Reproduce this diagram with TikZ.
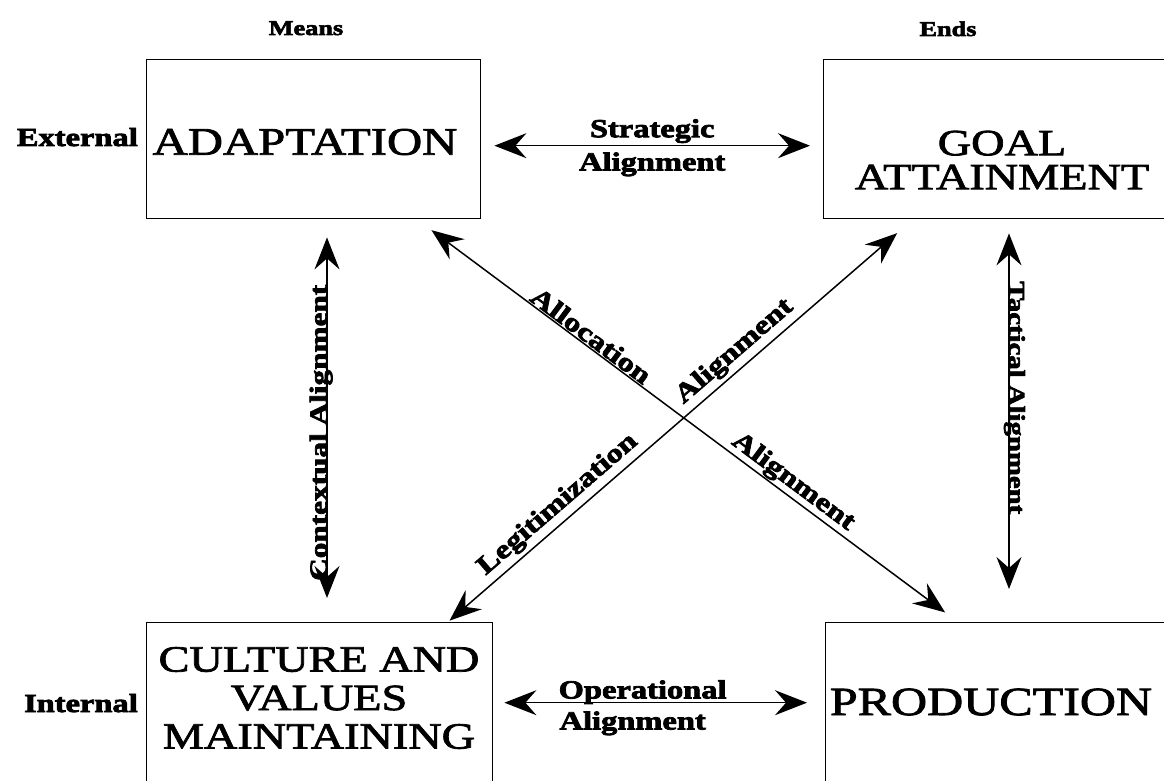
\documentclass[tikz,border=0pt]{standalone}
\usepackage{fontspec}
\setmainfont{Liberation Serif}
\newfontfamily\boxfont[FakeStretch=1.25, FakeBold=2]{Liberation Serif}
\newfontfamily\lblfont[FakeStretch=1.25, FakeBold=3]{Liberation Serif}
\usetikzlibrary{arrows.meta,calc}

\begin{document}
\begin{tikzpicture}[x=1pt, y=-1pt, >={Stealth[length=32pt, width=25pt, inset=11pt]},
    box/.style={rectangle, draw, line width=1.4pt, anchor=north west, inner sep=0pt},
    boxtext/.style={align=center, inner sep=0pt},
    lbl/.style={font=\lblfont\bfseries\fontsize{26}{28}\selectfont, inner sep=0pt},
    head/.style={font=\lblfont\bfseries\fontsize{21}{23}\selectfont, inner sep=0pt},
    vlbl/.style={font=\lblfont\bfseries\fontsize{25}{27}\selectfont, inner sep=0pt},
    link/.style={draw, <->, line width=1.5pt}]

    \useasboundingbox (0,0) rectangle (1164,781);
    \clip (0,0) rectangle (1164,781);

    % the four boxes
    \node [box, minimum width=334pt, minimum height=159pt] (adapt) at (146,59) {};
    \node [box, minimum width=362pt, minimum height=159pt] (goal) at (823,59) {};
    \node [box, minimum width=346pt, minimum height=180pt] (culture) at (146,622) {};
    \node [box, minimum width=362pt, minimum height=180pt] (prod) at (825,622) {};

    \node [boxtext, font=\boxfont\fontsize{39}{40}\selectfont] (adapttxt) at (305,142) {ADAPTATION};
    \node [boxtext, font=\boxfont\fontsize{37}{34}\selectfont] (goaltxt) at (1002,160) {GOAL\\ATTAINMENT};
    \node [boxtext, font=\boxfont\fontsize{37}{38.5}\selectfont] (culturetxt) at (319,698) {CULTURE AND\\VALUES\\MAINTAINING};
    \node [boxtext, font=\boxfont\fontsize{40}{42}\selectfont] (prodtxt) at (991,702) {PRODUCTION};

    % headings and side labels
    \node [head, anchor=base] (means) at (306,35) {Means};
    \node [head, anchor=base] (ends) at (948,36) {Ends};
    \node [lbl, anchor=base east] (extern) at (138,146) {External};
    \node [lbl, anchor=base east] (intern) at (138,712) {Internal};

    % alignments
    \draw [link, shorten <=13pt, shorten >=13pt] ([yshift=-6.5pt]adapt.east) --
        node [lbl, above=2pt] (strat) {Strategic}
        node [lbl, below=6pt] (stratalign) {Alignment} ([yshift=-6.5pt]goal.west);
    \draw [link, shorten <=11pt, shorten >=18pt] ([yshift=10pt]culture.east) --
        node [lbl, above=-2pt, pos=0.45] (oper) {Operational}
        node [lbl, below=8pt, pos=0.42] (operalign) {Alignment} ([yshift=10pt]prod.west);
    \draw [link, shorten <=18pt, shorten >=24pt] ([xshift=181pt]adapt.south west) --
        node [vlbl, pos=0.53, rotate=90, anchor=base] (context) {Contextual Alignment} ([xshift=181pt]culture.north west);
    \draw [link, shorten <=14pt, shorten >=33pt] ([xshift=186pt]goal.south west) --
        node [vlbl, font=\lblfont\bfseries\fontsize{23}{25}\selectfont, pos=0.443, rotate=-90, anchor=base] (tact) {Tactical Alignment} ([xshift=184pt]prod.north west);
    \draw [link, shorten <=18pt, shorten >=16pt] ([xshift=271pt]adapt.south west) --
        node [lbl, sloped, above=1pt, pos=0.31] (alloc) {Allocation}
        node [lbl, sloped, above=1pt, pos=0.68] (allocalign) {Alignment} ([xshift=133pt]prod.north west);
    \draw [link, shorten <=2pt, shorten >=21pt] ([xshift=302pt]culture.north west) --
        node [lbl, sloped, above=4pt, pos=0.26] (legit) {Legitimization}
        node [lbl, sloped, above=4pt, pos=0.64] (legitalign) {Alignment} ([xshift=90pt]goal.south west);

\end{tikzpicture}
\end{document}
